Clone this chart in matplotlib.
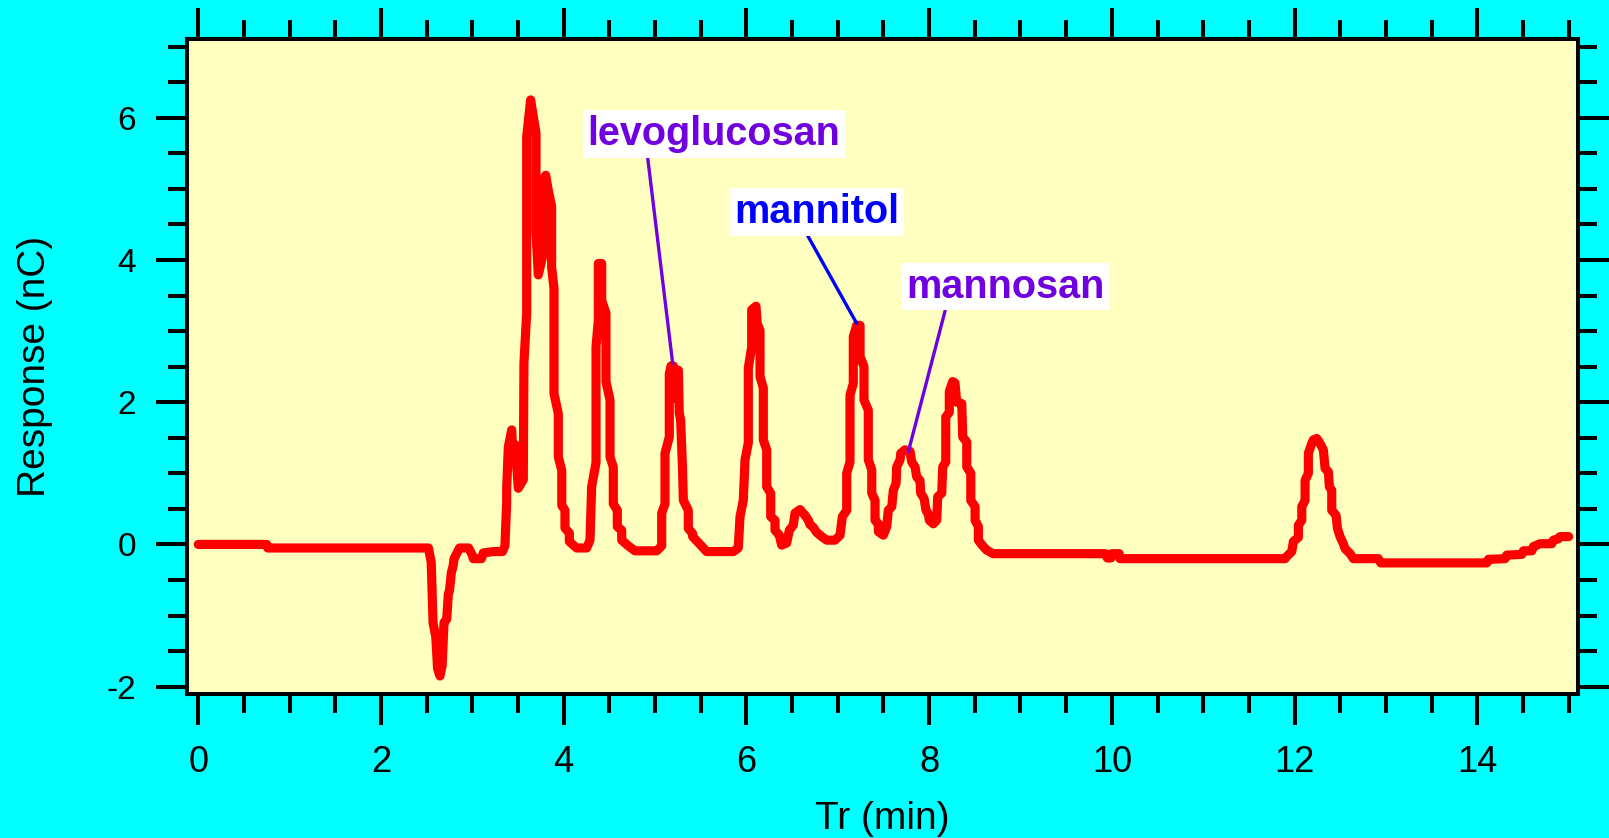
import matplotlib
matplotlib.use("Agg")
import matplotlib.pyplot as plt
from matplotlib.ticker import MultipleLocator

plt.rcParams["axes.unicode_minus"] = False

# ---- data ----
time_min = [
    0.0, 0.75, 0.76, 2.52, 2.55, 2.57, 2.60, 2.62, 2.646, 2.67, 2.69, 2.72, 2.737, 2.75,
    2.77, 2.79, 2.80, 2.84, 2.86, 2.96, 3.00, 3.01, 3.10, 3.12, 3.23, 3.33, 3.357,
    3.376, 3.376, 3.394, 3.431, 3.448, 3.47, 3.503, 3.558, 3.565, 3.595, 3.595, 3.638,
    3.697, 3.697, 3.722, 3.777, 3.777, 3.803, 3.831, 3.868, 3.868, 3.894, 3.894,
    3.941, 3.941, 3.979, 3.979, 4.014, 4.014, 4.062, 4.062, 4.142, 4.252, 4.288,
    4.306, 4.354, 4.354, 4.379, 4.379, 4.416, 4.416, 4.463, 4.463, 4.507, 4.507,
    4.543, 4.543, 4.587, 4.587, 4.635, 4.635, 4.707, 4.780, 5.018, 5.073, 5.073,
    5.109, 5.109, 5.156, 5.156, 5.175, 5.20, 5.215, 5.235, 5.255, 5.265, 5.28,
    5.30, 5.31, 5.364, 5.364, 5.412, 5.412, 5.492, 5.565, 5.857, 5.911, 5.930,
    5.966, 5.985, 6.021, 6.021, 6.058, 6.058, 6.105, 6.119, 6.149, 6.149, 6.185,
    6.185, 6.222, 6.222, 6.266, 6.266, 6.313, 6.313, 6.360, 6.386, 6.441, 6.470,
    6.513, 6.532, 6.587, 6.641, 6.678, 6.696, 6.732, 6.769, 6.824, 6.879, 6.970,
    7.025, 7.050, 7.098, 7.098, 7.134, 7.134, 7.170, 7.170, 7.207, 7.244, 7.244,
    7.287, 7.287, 7.334, 7.334, 7.372, 7.372, 7.408, 7.408, 7.444, 7.444, 7.499,
    7.536, 7.553, 7.591, 7.608, 7.638, 7.645, 7.682, 7.689, 7.736, 7.791, 7.809,
    7.846, 7.864, 7.900, 7.908, 7.944, 7.966, 7.991, 8.002, 8.046, 8.083, 8.094,
    8.138, 8.149, 8.182, 8.182, 8.221, 8.221, 8.258, 8.283, 8.302, 8.357, 8.368,
    8.412, 8.412, 8.456, 8.456, 8.503, 8.503, 8.539, 8.539, 8.58, 8.63, 8.70,
    9.93, 9.95, 9.99, 10.00, 10.08, 10.09, 11.896, 11.914, 11.969, 11.987, 12.042,
    12.042, 12.079, 12.079, 12.115, 12.115, 12.151, 12.151, 12.188, 12.206, 12.243,
    12.279, 12.315, 12.334, 12.370, 12.381, 12.407, 12.407, 12.454, 12.469, 12.498,
    12.534, 12.553, 12.608, 12.644, 12.917, 12.944, 14.104, 14.122, 14.304, 14.323,
    14.487, 14.505, 14.597, 14.614, 14.687, 14.815, 14.833, 14.888, 14.906, 15.0,
]
response_nC = [
    0.0, 0.0, -0.05, -0.05, -0.25, -1.1, -1.3, -1.75, -1.85, -1.7, -1.1, -1.05, -0.7, -0.65,
    -0.4, -0.3, -0.2, -0.1, -0.05, -0.05, -0.15, -0.2, -0.2, -0.12, -0.1, -0.1, -0.02,
    0.60, 0.79, 1.37, 1.61, 1.15, 1.40, 0.79, 0.91, 2.55, 3.25, 5.73, 6.25,
    5.78, 4.40, 3.79, 4.09, 5.12, 5.19, 4.98, 4.75, 3.90, 3.60, 2.12,
    1.84, 1.23, 1.04, 0.55, 0.48, 0.23, 0.16, 0.04, -0.05, -0.05, 0.06,
    0.81, 1.15, 2.78, 3.15, 3.95, 3.95, 3.43, 3.25, 2.29, 2.03, 1.23,
    1.09, 0.57, 0.48, 0.25, 0.20, 0.06, -0.02, -0.09, -0.09, -0.02, 0.44,
    0.57, 1.28, 1.51, 2.40, 2.51, 2.51, 2.05, 2.45, 2.45, 1.85, 1.75,
    1.09, 0.62, 0.48, 0.225, 0.15, 0.11, 0.0, -0.10, -0.10, -0.05, 0.39,
    0.62, 1.19, 1.43, 2.48, 2.78, 3.30, 3.35, 3.10, 3.01, 2.36, 2.20,
    1.47, 1.33, 0.81, 0.72, 0.39, 0.34, 0.20, 0.13, -0.01, 0.02, 0.20,
    0.27, 0.44, 0.49, 0.41, 0.34, 0.28, 0.24, 0.17, 0.11, 0.06, 0.06,
    0.13, 0.39, 0.48, 1.00, 1.16, 2.10, 2.26, 2.92, 3.08, 3.08, 2.64,
    2.50, 2.03, 1.89, 1.19, 1.05, 0.72, 0.62, 0.34, 0.29, 0.18, 0.13,
    0.25, 0.48, 0.53, 0.76, 0.86, 1.09, 1.19, 1.28, 1.33, 1.31, 1.16,
    1.09, 0.95, 0.90, 0.72, 0.65, 0.48, 0.43, 0.34, 0.29, 0.34, 0.67,
    0.72, 1.09, 1.16, 1.79, 1.86, 2.15, 2.29, 2.27, 2.00, 1.98, 1.51,
    1.44, 1.09, 1.00, 0.62, 0.53, 0.34, 0.25, 0.06, -0.01, -0.08, -0.13,
    -0.13, -0.19, -0.19, -0.13, -0.13, -0.20, -0.20, -0.17, -0.10, 0.04, 0.10,
    0.27, 0.34, 0.53, 0.62, 0.90, 1.00, 1.28, 1.42, 1.47, 1.49,
    1.42, 1.33, 1.07, 1.02, 0.81, 0.76, 0.48, 0.41, 0.225, 0.11,
    0.01, -0.06, -0.13, -0.20, -0.20, -0.26, -0.26, -0.21, -0.20, -0.15,
    -0.14, -0.09, -0.09, -0.03, 0.01, 0.01, 0.06, 0.08, 0.11, 0.11,
]

peak_names = ["levoglucosan", "mannitol", "mannosan"]
peak_time = [5.193, 7.207, 7.772]
peak_resp = [2.545, 3.108, 1.302]
label_time = [5.643, 6.775, 8.836]
label_resp = [5.77, 4.671, 3.626]
leader_start_time = [4.920, 6.667, 8.174]
leader_start_resp = [5.43, 4.35, 3.281]
label_colors = ["#7000e0", "#0000ff", "#7000e0"]

x_ticks = [0, 2, 4, 6, 8, 10, 12, 14]
y_ticks = [-2, 0, 2, 4, 6]

# ---- figure ----
fig = plt.figure(figsize=(16.09, 8.38), dpi=100, facecolor="#00ffff")
ax = fig.add_axes([0.1160, 0.1715, 0.9806 - 0.1160, 0.9529 - 0.1715])
ax.set_facecolor("#ffffc0")

ax.plot(time_min, response_nC, color="#ff0000", lw=6.6,
        solid_joinstyle="round", solid_capstyle="round", zorder=3)

for name, pt, pr, lt, lr, st, sr, c in zip(peak_names, peak_time, peak_resp,
                                           label_time, label_resp,
                                           leader_start_time, leader_start_resp,
                                           label_colors):
    ax.annotate("", xy=(pt, pr), xytext=(st, sr),
                arrowprops=dict(arrowstyle="-", color=c, lw=2.4,
                                shrinkA=0, shrinkB=0), zorder=4)
    ax.text(lt, lr, name, color=c, fontsize=28.5, fontweight="bold",
            family="Liberation Sans", ha="center", va="center", zorder=5,
            bbox=dict(boxstyle="square,pad=0.12", fc="white", ec="none"))

ax.set_xlim(-0.127, 15.1)
ax.set_ylim(-2.107, 7.1)
ax.set_xticks(x_ticks)
ax.set_yticks(y_ticks)
ax.xaxis.set_minor_locator(MultipleLocator(0.5))
ax.yaxis.set_minor_locator(MultipleLocator(0.5))

for s in ax.spines.values():
    s.set_linewidth(2.9)
    s.set_zorder(6)

ax.tick_params(which="both", direction="out", top=True, right=True,
               width=2.9, color="black")
ax.tick_params(which="major", length=22.5)
ax.tick_params(which="minor", length=14)
ax.tick_params(axis="x", which="major", labelsize=26, pad=14)
ax.tick_params(axis="y", which="major", labelsize=24, pad=14)
for lab in ax.get_xticklabels() + ax.get_yticklabels():
    lab.set_family("Liberation Sans")

ax.set_xlabel("Tr (min)", fontsize=28, family="Liberation Sans")
ax.set_ylabel("Response (nC)", fontsize=28, family="Liberation Sans")
ax.xaxis.set_label_coords(0.5, -0.163)
ax.yaxis.set_label_coords(-0.0961, 0.5)

fig.savefig("out.png", dpi=100, facecolor=fig.get_facecolor())
